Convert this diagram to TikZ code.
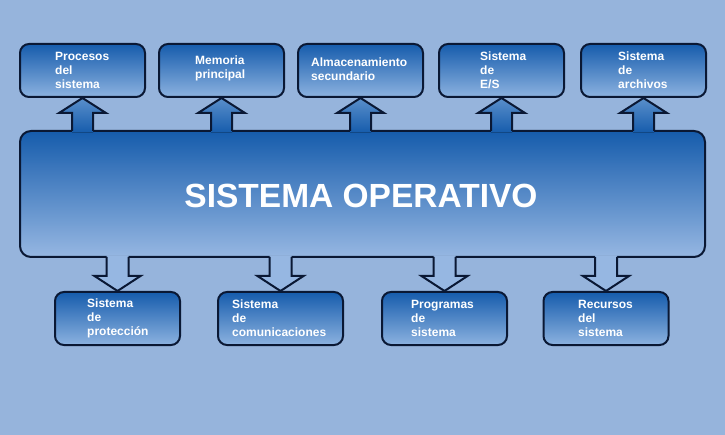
\documentclass[tikz,border=0pt]{standalone}
\usepackage{fontspec}
\setmainfont{Liberation Sans}
\usetikzlibrary{calc,positioning}

\definecolor{fondo}{RGB}{150,180,220}
\definecolor{azuloscuro}{RGB}{22,92,172}
\definecolor{azulmedio}{RGB}{48,115,190}
\definecolor{azulclaro}{RGB}{140,178,224}
\definecolor{azulfondo}{RGB}{150,183,226}
\definecolor{borde}{RGB}{10,24,52}

\tikzset{
  caja/.style={draw=borde, line width=2pt, rounded corners=9pt,
    minimum width=125pt, minimum height=53pt, inner sep=0pt,
    top color=azuloscuro, bottom color=azulclaro},
  texto/.style={anchor=west, align=left, text=white, inner sep=0pt,
    font=\bfseries\fontsize{12}{14}\selectfont},
  contorno/.style={draw=borde, line width=2pt, line join=miter},
}

\begin{document}
\begin{tikzpicture}[x=1pt,y=-1pt]

\useasboundingbox (0,0) rectangle (725,435);
\fill[fondo] (0,0) rectangle (725,435);

% caja central
\node[draw=borde, line width=2pt, rounded corners=11pt, minimum width=685pt,
  minimum height=126pt, inner sep=0pt, top color=azuloscuro,
  middle color=azulmedio, bottom color=azulfondo] (so) at (362.5,194) {};
\node[text=white, font=\bfseries\fontsize{33.5}{38}\selectfont] (titulo) at (361,196) {SISTEMA OPERATIVO};

% fila de arriba
\node[caja] (procesos) at (82.5,70.5) {};
\node[caja] (memoria) at (221.5,70.5) {};
\node[caja] (almacenamiento) at (360.5,70.5) {};
\node[caja] (es) at (501.5,70.5) {};
\node[caja] (archivos) at (643.5,70.5) {};

\node[texto] (tprocesos) at (55,70.5) {Procesos\\del\\sistema};
\node[texto] (tmemoria) at (195,68) {Memoria\\principal};
\node[texto] (talmacenamiento) at (311,69.5) {Almacenamiento\\secundario};
\node[texto] (tes) at (480,70) {Sistema\\de\\E/S};
\node[texto] (tarchivos) at (618,70) {Sistema\\de\\archivos};

% fila de abajo
\node[caja] (proteccion) at (117.5,318.5) {};
\node[caja] (comunicaciones) at (280.5,318.5) {};
\node[caja] (programas) at (444.5,318.5) {};
\node[caja] (recursos) at (606,318.5) {};

\node[texto] (tproteccion) at (87,318.5) {Sistema\\de\\protección};
\node[texto] (tcomunicaciones) at (232,318.5) {Sistema\\de\\comunicaciones};
\node[texto] (tprogramas) at (411,318.5) {Programas\\de\\sistema};
\node[texto] (trecursos) at (578,318.5) {Recursos\\del\\sistema};

% flechas hacia arriba
\foreach \b in {procesos,memoria,almacenamiento,es,archivos}{
  \fill[top color=azulmedio!80!white, bottom color=azuloscuro]
    ($(so.north -| \b.south)+(-10.5,2.5)$) -- ($(\b.south)+(-10.5,15)$)
    -- ($(\b.south)+(-23.5,15)$) -- (\b.south) -- ($(\b.south)+(23.5,15)$)
    -- ($(\b.south)+(10.5,15)$) -- ($(so.north -| \b.south)+(10.5,2.5)$) -- cycle;
  \draw[contorno]
    ($(so.north -| \b.south)+(-10.5,1)$) -- ($(\b.south)+(-10.5,15)$)
    -- ($(\b.south)+(-23.5,15)$) -- (\b.south) -- ($(\b.south)+(23.5,15)$)
    -- ($(\b.south)+(10.5,15)$) -- ($(so.north -| \b.south)+(10.5,1)$);
}

% flechas hacia abajo
\foreach \b in {proteccion,comunicaciones,programas,recursos}{
  \fill[azulfondo]
    ($(so.south -| \b.north)+(-11,-2.5)$) -- ($(\b.north)+(-11,-15)$)
    -- ($(\b.north)+(-23,-15)$) -- (\b.north) -- ($(\b.north)+(23,-15)$)
    -- ($(\b.north)+(11,-15)$) -- ($(so.south -| \b.north)+(11,-2.5)$) -- cycle;
  \draw[contorno]
    ($(so.south -| \b.north)+(-11,-1)$) -- ($(\b.north)+(-11,-15)$)
    -- ($(\b.north)+(-23,-15)$) -- (\b.north) -- ($(\b.north)+(23,-15)$)
    -- ($(\b.north)+(11,-15)$) -- ($(so.south -| \b.north)+(11,-1)$);
}

\end{tikzpicture}
\end{document}
